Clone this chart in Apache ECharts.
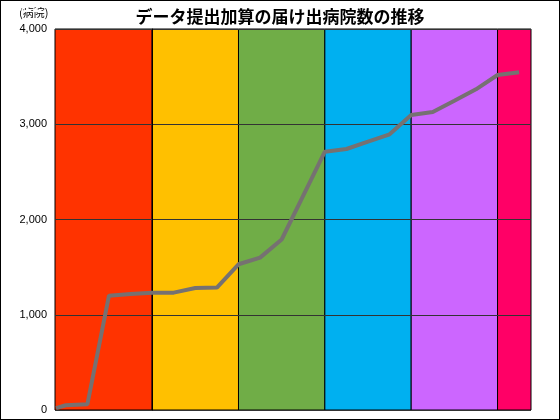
<!DOCTYPE html><html><head><meta charset="utf-8"><script src="https://cdn.jsdelivr.net/npm/echarts@6/dist/echarts.min.js"></script>
<style>html,body{margin:0;padding:0}#c{width:560px;height:420px;box-sizing:border-box;border:1px solid #000}</style></head><body><div id="c"></div><script>
const quarterPos=[-4.45,-4,-3,-2,-1,0,1,2,3,4,5,6,7,8,9,10,11,12,13,14,15,16,17];
const hospitals=[20,50,60,1200,1218,1232,1232,1280,1285,1530,1600,1790,2250,2712,2740,2817,2894,3097,3129,3247,3367,3517,3545];
const yearLabels=['2012','13','14','15','16','17'];
const yearStarts=[-4.5,0,4,8,12,16];
const yearEnds=[0,4,8,12,16,17.55];
const yearColors=['#ff3300','#ffc000','#70ad47','#00b0f0','#cc66ff','#ff0066'];
const chart=echarts.init(document.getElementById('c'));
const fam='"Noto Sans CJK JP","DejaVu Sans",sans-serif';
chart.setOption({
 animation:false,
 title:{text:'データ提出加算の届け出病院数の推移',left:'center',top:2,textStyle:{fontFamily:fam,fontSize:17,fontWeight:'bold',color:'#000'}},
 graphic:[{type:'text',left:18,top:6,style:{text:'(病院)',font:'11px '+fam,fill:'#000'}}],
 grid:{left:54,right:28,top:28,bottom:9},
 xAxis:{type:'value',min:-4.5,max:17.55,show:false},
 yAxis:{type:'value',min:0,max:4000,interval:1000,axisLine:{show:true,lineStyle:{color:'#000'}},axisTick:{show:false},axisLabel:{fontSize:11,color:'#000',fontFamily:'Liberation Sans'},splitLine:{lineStyle:{color:'#333',width:1}},z:5},
 series:[{type:'line',data:quarterPos.map((x,i)=>[x,hospitals[i]]),showSymbol:false,lineStyle:{color:'#767171',width:4},z:10,
  markArea:{silent:true,z:1,data:yearLabels.map((t,i)=>[{xAxis:yearStarts[i],itemStyle:{color:yearColors[i],borderColor:'#000',borderWidth:1},label:{show:true,formatter:t,position:'insideTopLeft',distance:[6,5],color:'#fff',fontWeight:'bold',fontSize:15,fontFamily:'DejaVu Sans'}},{xAxis:yearEnds[i],yAxis:4000}]).map(p=>{p[0].yAxis=0;return p;})}
 }]
});
</script></body></html>
